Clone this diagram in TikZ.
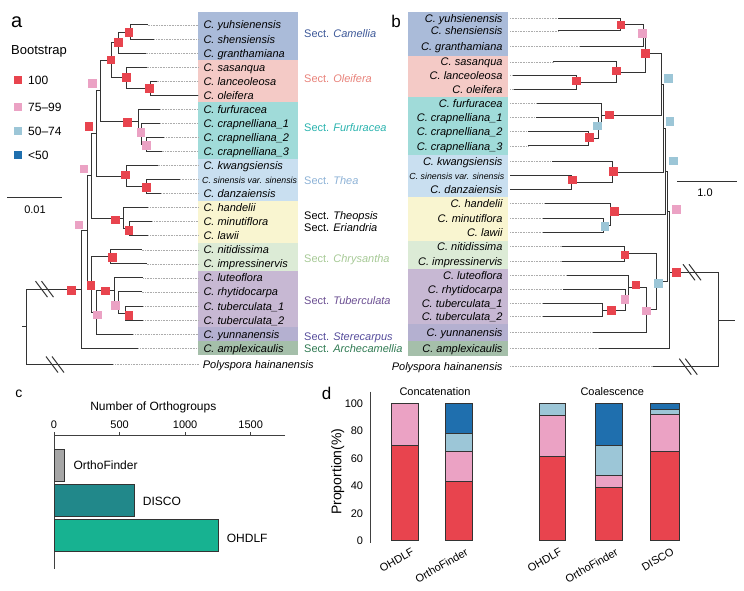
\documentclass[tikz,border=0pt]{standalone}
\usepackage{fontspec}
\setmainfont{Liberation Sans}
\definecolor{cred}{HTML}{E8444E}
\definecolor{cpink}{HTML}{EBA2C4}
\definecolor{clb}{HTML}{9CC6D7}
\definecolor{cdb}{HTML}{1F6FAE}
\definecolor{bxCam}{HTML}{AABBD9}
\definecolor{bxOle}{HTML}{F4CAC6}
\definecolor{bxFur}{HTML}{A0DBD9}
\definecolor{bxThe}{HTML}{C9DFF0}
\definecolor{bxTheo}{HTML}{F9F5D0}
\definecolor{bxChr}{HTML}{DCEBD6}
\definecolor{bxTub}{HTML}{C7B8D3}
\definecolor{bxSte}{HTML}{B4B0D0}
\definecolor{bxArc}{HTML}{A5BFAA}
\definecolor{tCam}{HTML}{3D5898}
\definecolor{tOle}{HTML}{E8827A}
\definecolor{tFur}{HTML}{2AB3AE}
\definecolor{tThe}{HTML}{8DB2D6}
\definecolor{tChr}{HTML}{A6C995}
\definecolor{tTub}{HTML}{6B4F92}
\definecolor{tSte}{HTML}{564D9C}
\definecolor{tArc}{HTML}{2F7A52}
\definecolor{treec}{HTML}{333333}
\definecolor{cOF}{HTML}{A6A6A6}
\definecolor{cDI}{HTML}{21888A}
\definecolor{cOH}{HTML}{17B291}
\newcommand\brkmark[2]{%
  \draw[br] ({#1-9},{#2-8}) -- ({#1+3},{#2+8}) ({#1-3},{#2-8}) -- ({#1+9},{#2+8});}
\newcommand\barseg[5]{\draw[barc, fill=#5] (#1,{540.7-1.374*#3}) rectangle (#2,{540.7-1.374*#4});}
\begin{document}
\begin{tikzpicture}[x=1pt,y=-1pt,
  br/.style={draw=treec, line width=1pt},
  dots/.style={draw=gray!65, densely dotted, line width=0.6pt},
  sq/.style={minimum size=8.5pt, inner sep=0pt, draw=none},
  lsq/.style={minimum size=7.3pt, inner sep=0pt, draw=none},
  spa/.style={anchor=west, inner sep=0pt, font=\fontsize{11}{13}\selectfont\itshape, text height=8pt, text depth=0pt},
  spb/.style={spa, anchor=east},
  sect/.style={anchor=west, inner sep=0pt, font=\fontsize{11}{13}\selectfont, text height=8pt, text depth=0pt},
  txt/.style={inner sep=0pt, font=\fontsize{11}{13}\selectfont, text height=8pt, text depth=0pt},
  leg/.style={anchor=west, inner sep=0pt, font=\fontsize{12}{14}\selectfont, text height=8.5pt, text depth=0pt},
  plet/.style={inner sep=0pt},
  axis/.style={draw=black!75, line width=0.8pt},
  barc/.style={draw=black!80, line width=0.8pt},
  xlab/.style={anchor=north east, rotate=30, inner sep=0pt, font=\fontsize{11}{13}\selectfont}
]
\useasboundingbox (0,0) rectangle (744,591);
% ---------------- panel a boxes
\fill[bxCam] (198.3,12) rectangle (298.3,60.5);
\fill[bxOle] (198.3,60.5) rectangle (298.3,102.3);
\fill[bxFur] (198.3,102.3) rectangle (298.3,158.5);
\fill[bxThe] (198.3,158.5) rectangle (298.3,200.7);
\fill[bxTheo] (198.3,200.7) rectangle (298.3,242.8);
\fill[bxChr] (198.3,242.8) rectangle (298.3,270.9);
\fill[bxTub] (198.3,270.9) rectangle (298.3,327.1);
\fill[bxSte] (198.3,327.1) rectangle (298.3,341.2);
\fill[bxArc] (198.3,341.2) rectangle (298.3,355.2);
% ---------------- panel b boxes
\fill[bxCam] (407.7,12.3) rectangle (507.7,56);
\fill[bxOle] (407.7,56) rectangle (507.7,97.3);
\fill[bxFur] (407.7,97.3) rectangle (507.7,155);
\fill[bxThe] (407.7,155) rectangle (507.7,197.3);
\fill[bxTheo] (407.7,197.3) rectangle (507.7,241);
\fill[bxChr] (407.7,241) rectangle (507.7,269);
\fill[bxTub] (407.7,269) rectangle (507.7,324.3);
\fill[bxSte] (407.7,324.3) rectangle (507.7,341);
\fill[bxArc] (407.7,341) rectangle (507.7,355.7);
% ---------------- species labels
\foreach \k/\ya/\yb/\t in {
0/25/18.3/{C. yuhsienensis},
1/39.05/31/{C. shensiensis},
2/53.1/46.7/{C. granthamiana},
3/67.15/62/{C. sasanqua},
4/81.2/75.3/{C. lanceoleosa},
5/95.25/89.3/{C. oleifera},
6/109.3/103.3/{C. furfuracea},
7/123.35/117.3/{C. crapnelliana\_1},
8/137.4/131.7/{C. crapnelliana\_2},
9/151.45/146/{C. crapnelliana\_3},
10/165.5/161.7/{C. kwangsiensis},
12/193.6/189.7/{C. danzaiensis},
13/207.65/203.3/{C. handelii},
14/221.7/218.3/{C. minutiflora},
15/235.75/232.7/{C. lawii},
16/249.8/246.7/{C. nitidissima},
17/263.85/261/{C. impressinervis},
18/277.9/275/{C. luteoflora},
19/291.95/289/{C. rhytidocarpa},
20/306/303.3/{C. tuberculata\_1},
21/320.05/316.7/{C. tuberculata\_2},
22/334.1/332.7/{C. yunnanensis},
23/348.15/348.3/{C. amplexicaulis}}
{\node[spa] (ta\k) at (203.3,\ya) {\t};
 \node[spb] (tb\k) at (502.7,\yb) {\t};}
\node[spa, font=\fontsize{8.8}{10}\selectfont\itshape] (ta11) at (202,179.55) {C. sinensis var. sinensis};
\node[spb, font=\fontsize{8.8}{10}\selectfont\itshape] (tb11) at (504.5,175.7) {C. sinensis var. sinensis};
\node[spa] (ta24) at (202.7,364.5) {Polyspora hainanensis};
\node[spb] (tb24) at (502.7,366.7) {Polyspora hainanensis};
% ---------------- section labels
\node[sect, text=tCam] (sc1) at (304,33.3) {Sect. \textit{Camellia}};
\node[sect, text=tOle] (sc2) at (304,78.3) {Sect. \textit{Oleifera}};
\node[sect, text=tFur] (sc3) at (304,127.3) {Sect. \textit{Furfuracea}};
\node[sect, text=tThe] (sc4) at (304,180.3) {Sect. \textit{Thea}};
\node[sect] (sc5) at (304,215.7) {Sect. \textit{Theopsis}};
\node[sect] (sc6) at (304,227.3) {Sect. \textit{Eriandria}};
\node[sect, text=tChr] (sc7) at (304,258) {Sect. \textit{Chrysantha}};
\node[sect, text=tTub] (sc8) at (304,300) {Sect. \textit{Tuberculata}};
\node[sect, text=tSte] (sc9) at (304,336.7) {Sect. \textit{Sterecarpus}};
\node[sect, text=tArc] (sc10) at (304,348.3) {Sect. \textit{Archecamellia}};
% ---------------- panel a tree
\foreach \k/\x/\y in {0/147.7/25, 1/154.3/39.05, 2/145.7/53.1, 3/146.7/67.15, 4/156.7/81.2, 5/198/95.25, 6/160/109.3, 7/160/123.35, 8/164.3/137.4, 9/161.7/151.45, 10/157.7/165.5, 11/180/179.55, 12/161/193.6, 13/148.3/207.65, 14/152.3/221.7, 15/148.3/235.75, 16/141.7/249.8, 17/146.7/263.85, 18/143.3/277.9, 19/141.7/291.95, 20/143.3/306, 21/143.3/320.05, 22/133.3/334.1, 23/138.3/348.15, 24/113.3/364.5}
  \coordinate (a\k) at (\x,\y);
\coordinate (ea) at (198.3,0);
\foreach \k in {0,...,24} \draw[dots] (a\k) -- (a\k -| ea);
\coordinate (n01) at (130,32.03);
\coordinate (n012) at (118.3,42.56);
\coordinate (n45) at (150,88.23);
\coordinate (n345) at (126.7,77.69);
\coordinate (nCO) at (111,60.13);
\coordinate (n89) at (146.7,144.43);
\coordinate (n789) at (141,133.89);
\coordinate (n6789) at (138.3,121.6);
\coordinate (nA) at (100,90.86);
\coordinate (n1112) at (146.7,186.58);
\coordinate (n1012) at (126,176.04);
\coordinate (nB) at (96.7,133.45);
\coordinate (n1415) at (129.3,228.73);
\coordinate (n1315) at (123.3,218.19);
\coordinate (nC) at (91.7,175.82);
\coordinate (n1617) at (110,256.83);
\coordinate (n2021) at (125,313.03);
\coordinate (n1921) at (118.3,302.49);
\coordinate (n1821) at (114.3,290.2);
\coordinate (n1822) at (96.7,312.15);
\coordinate (nE) at (91.7,284.49);
\coordinate (nX) at (87.3,230.16);
\coordinate (nZ) at (81.7,289.16);
\coordinate (ra) at (26.7,326.83);
\coordinate (ras) at (21.7,326.83);
\draw[br] (n01) |- (a0) (n01) |- (a1)
 (n012) |- (n01) (n012) |- (a2)
 (n45) |- (a4) (n45) |- (a5)
 (n345) |- (a3) (n345) |- (n45)
 (nCO) |- (n012) (nCO) |- (n345)
 (n89) |- (a8) (n89) |- (a9)
 (n789) |- (a7) (n789) |- (n89)
 (n6789) |- (a6) (n6789) |- (n789)
 (nA) |- (nCO) (nA) |- (n6789)
 (n1112) |- (a11) (n1112) |- (a12)
 (n1012) |- (a10) (n1012) |- (n1112)
 (nB) |- (nA) (nB) |- (n1012)
 (n1415) |- (a14) (n1415) |- (a15)
 (n1315) |- (a13) (n1315) |- (n1415)
 (nC) |- (nB) (nC) |- (n1315)
 (n1617) |- (a16) (n1617) |- (a17)
 (n2021) |- (a20) (n2021) |- (a21)
 (n1921) |- (a19) (n1921) |- (n2021)
 (n1821) |- (a18) (n1821) |- (n1921)
 (n1822) |- (n1821) (n1822) |- (a22)
 (nE) |- (n1617) (nE) |- (n1822)
 (nX) |- (nC) (nX) |- (nE)
 (nZ) |- (nX) (nZ) |- (a23)
 (ra) |- (nZ) (ra) |- (a24)
 (ra) -- (ras);
\brkmark{44.5}{289.16}
\brkmark{55}{364.5}
\foreach \nm/\x/\y/\c in {sa1/129/32.3/cred, sa2/118.3/42.3/cred, sa3/111/60/cred, sa4/126.7/77.7/cred, sa5/149.3/88.3/cred, sa6/92.3/83.3/cpink, sa7/127.7/122.3/cred, sa8/141/132.7/cpink, sa9/146.7/145.7/cpink, sa10/89/126.7/cred, sa11/84/169/cpink, sa12/125.7/175/cred, sa13/146.7/187.5/cred, sa14/115.7/220/cred, sa15/129/230.7/cred, sa16/79/225/cpink, sa17/112.7/257.7/cred, sa18/71.7/290.7/cred, sa19/91/285.7/cred, sa20/105.7/291/cred, sa21/115.7/305.7/cpink, sa22/129/315.7/cred, sa23/97.7/315/cpink}
  \node[sq, fill=\c] (\nm) at (\x,\y) {};
% ---------------- panel b tree
\foreach \k/\x/\y in {0/558.3/18.3, 1/558.3/31, 2/580/46.7, 3/553.3/62, 4/513.3/75.3, 5/514.3/89.3, 6/537.3/103.3, 7/536/117.3, 8/527.7/131.7, 9/527.7/146, 10/551.7/161.7, 11/510/175.7, 12/510/189.7, 13/545/203.3, 14/543.3/218.3, 15/543.3/232.7, 16/561.7/246.7, 17/561.7/261, 18/566.7/275, 19/562.7/289, 20/542.7/303.3, 21/542.7/316.7, 22/593.3/332.7, 23/599.3/348.3, 24/652.7/366.7}
  \coordinate (b\k) at (\x,\y);
\coordinate (eb) at (510,0);
\foreach \k in {0,...,24} \draw[dots] (b\k -| eb) -- (b\k);
\coordinate (m01) at (620,24.65);
\coordinate (m012) at (643,35.68);
\coordinate (m45) at (576.7,82.3);
\coordinate (m345) at (616.7,72.15);
\coordinate (mCO) at (645.7,53.9);
\coordinate (m89) at (588,138.85);
\coordinate (m789) at (598,128.08);
\coordinate (m6789) at (601,115.69);
\coordinate (P1) at (661.5,84.8);
\coordinate (m1112) at (571.7,182.7);
\coordinate (m1012) at (612.3,172.2);
\coordinate (P2) at (663.5,128.5);
\coordinate (m1415) at (603.3,225.5);
\coordinate (m1315) at (610,214.4);
\coordinate (P3) at (665.5,171.45);
\coordinate (m1617) at (624.3,253.85);
\coordinate (m2021) at (602.7,310);
\coordinate (m1921) at (625,299.5);
\coordinate (m1821) at (628.3,287.25);
\coordinate (m1822) at (646,309.98);
\coordinate (Q) at (656.7,281.9);
\coordinate (P4) at (667,211);
\coordinate (P5) at (669.5,272.3);
\coordinate (rb) at (718.5,320);
\coordinate (rbs) at (735,320);
\draw[br] (m01) |- (b0) (m01) |- (b1)
 (m012) |- (m01) (m012) |- (b2)
 (m45) |- (b4) (m45) |- (b5)
 (m345) |- (b3) (m345) |- (m45)
 (mCO) |- (m012) (mCO) |- (m345)
 (m89) |- (b8) (m89) |- (b9)
 (m789) |- (b7) (m789) |- (m89)
 (m6789) |- (b6) (m6789) |- (m789)
 (P1) |- (mCO) (P1) |- (m6789)
 (m1112) |- (b11) (m1112) |- (b12)
 (m1012) |- (b10) (m1012) |- (m1112)
 (P2) |- (P1) (P2) |- (m1012)
 (m1415) |- (b14) (m1415) |- (b15)
 (m1315) |- (b13) (m1315) |- (m1415)
 (P3) |- (P2) (P3) |- (m1315)
 (m1617) |- (b16) (m1617) |- (b17)
 (m2021) |- (b20) (m2021) |- (b21)
 (m1921) |- (b19) (m1921) |- (m2021)
 (m1821) |- (b18) (m1821) |- (m1921)
 (m1822) |- (m1821) (m1822) |- (b22)
 (Q) |- (m1617) (Q) |- (m1822)
 (P4) |- (P3) (P4) |- (Q)
 (P5) |- (P4) (P5) |- (b23)
 (rb) |- (P5) (rb) |- (b24)
 (rb) -- (rbs);
\brkmark{692}{272.3}
\brkmark{688.3}{366.7}
\foreach \nm/\x/\y/\c in {sb1/621/25/cred, sb2/642.3/33.3/cpink, sb3/645.7/53.3/cred, sb4/576.7/81/cred, sb5/616.7/71/cred, sb6/668.3/78.3/clb, sb7/589.3/137.7/cred, sb8/597.3/126/clb, sb9/609.3/115/cred, sb10/670/121.7/clb, sb11/572.3/180/cred, sb12/613.3/171.7/cred, sb13/673.3/161/clb, sb14/605/226.7/clb, sb15/614.3/211.7/cred, sb16/676.7/209.3/cpink, sb17/625/255/cred, sb18/658.3/283.3/clb, sb19/636/285/cred, sb20/625/299.3/cpink, sb21/611.7/310.7/cred, sb22/646.7/311/cpink, sb23/676.7/272.7/cred}
  \node[sq, fill=\c] (\nm) at (\x,\y) {};
% ---------------- legend and scale bars
\node[plet, font=\fontsize{20}{22}\selectfont] (pa) at (16.7,22) {a};
\node[plet, font=\fontsize{17}{19}\selectfont] (pb) at (396,21.7) {b};
\node[leg, font=\fontsize{13}{15}\selectfont] (bst) at (11,50.7) {Bootstrap};
\node[lsq, fill=cred] (l1) at (18,80) {};
\node[lsq, fill=cpink] (l2) at (18,107) {};
\node[lsq, fill=clb] (l3) at (18,131) {};
\node[lsq, fill=cdb] (l4) at (18,155) {};
\node[leg] (lt1) at (28,80) {100};
\node[leg] (lt2) at (28,107) {75--99};
\node[leg] (lt3) at (28,131) {50--74};
\node[leg] (lt4) at (28,155) {<50};
\coordinate (sa0) at (7.3,197.3);
\coordinate (sa9x) at (62.3,197.3);
\draw[br] (sa0) -- (sa9x);
\node[txt] (sal) at (35,209) {0.01};
\coordinate (sb0) at (677.3,181.7);
\coordinate (sb9x) at (736.7,181.7);
\draw[br] (sb0) -- (sb9x);
\node[txt] (sbl) at (705,192.3) {1.0};
% ---------------- panel c
\node[plet, font=\fontsize{14}{16}\selectfont] (pc) at (19,394) {c};
\node[txt, font=\fontsize{12}{14}\selectfont] (ctit) at (153.3,406) {Number of Orthogroups};
\coordinate (c0) at (54,435.7);
\coordinate (c1) at (285,435.7);
\coordinate (c2) at (54,569.3);
\draw[axis] (c1) -- (c0) -- (c2);
\foreach \v in {0,500,1000,1500} {
  \draw[axis] ({54+0.13113*\v},435.7) -- ({54+0.13113*\v},432.4);
  \node[txt] (ct\v) at ({54+0.13113*\v},424) {\v};
}
\draw[barc, fill=cOF] (54,449) rectangle (64.3,481);
\draw[barc, fill=cDI] (54,484.3) rectangle (134,516);
\draw[barc, fill=cOH] (54,519.3) rectangle (218.3,551);
\node[leg] (cb1) at (73.3,465) {OrthoFinder};
\node[leg] (cb2) at (142.7,501) {DISCO};
\node[leg] (cb3) at (226.7,538.3) {OHDLF};
% ---------------- panel d
\node[plet, font=\fontsize{17}{19}\selectfont] (pd) at (326.7,393.3) {d};
\node[txt] (dt1) at (435,391) {Concatenation};
\node[txt] (dt2) at (612.3,391) {Coalescence};
\coordinate (d0) at (370,391.7);
\coordinate (d1) at (370,543.3);
\draw[axis] (d0) -- (d1);
\foreach \v in {0,20,40,60,80,100}
  \node[txt, anchor=east] (dy\v) at (363.3,{540.7-1.374*\v}) {\v};
\node[inner sep=0pt, rotate=90, font=\fontsize{14}{16}\selectfont] (dyl) at (337.7,471.7) {Proportion(\%)};
\barseg{391.7}{418.3}{0}{69.7}{cred}
\barseg{391.7}{418.3}{69.7}{100}{cpink}
\barseg{445}{472.3}{0}{43.4}{cred}
\barseg{445}{472.3}{43.4}{65.3}{cpink}
\barseg{445}{472.3}{65.3}{78.2}{clb}
\barseg{445}{472.3}{78.2}{100}{cdb}
\barseg{539.3}{565.7}{0}{61.2}{cred}
\barseg{539.3}{565.7}{61.2}{91.5}{cpink}
\barseg{539.3}{565.7}{91.5}{100}{clb}
\barseg{595}{622.7}{0}{38.8}{cred}
\barseg{595}{622.7}{38.8}{47.8}{cpink}
\barseg{595}{622.7}{47.8}{69.2}{clb}
\barseg{595}{622.7}{69.2}{100}{cdb}
\barseg{650.7}{679}{0}{65.3}{cred}
\barseg{650.7}{679}{65.3}{92}{cpink}
\barseg{650.7}{679}{92}{95.9}{clb}
\barseg{650.7}{679}{95.9}{100}{cdb}
\node[xlab] (dx1) at (411,547) {OHDLF};
\node[xlab] (dx2) at (465,547) {OrthoFinder};
\node[xlab] (dx3) at (559,547) {OHDLF};
\node[xlab] (dx4) at (615,547) {OrthoFinder};
\node[xlab] (dx5) at (671,547) {DISCO};
\end{tikzpicture}
\end{document}
